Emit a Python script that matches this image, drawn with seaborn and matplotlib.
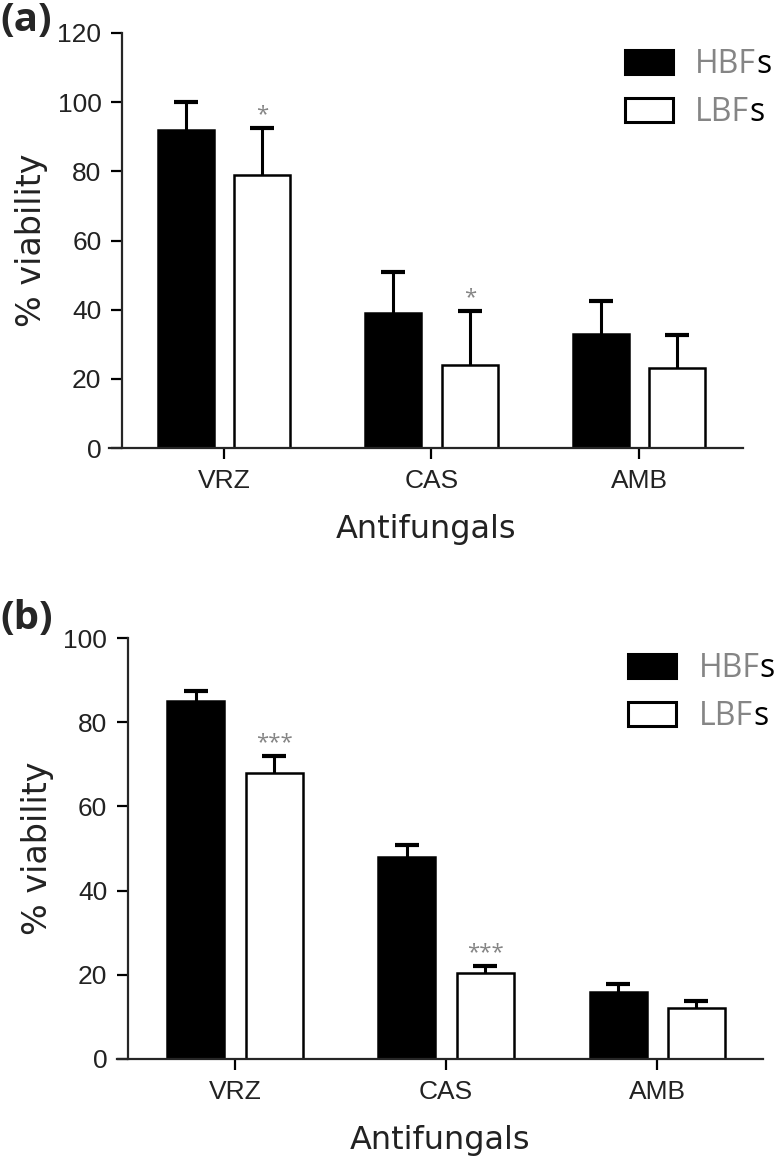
"""
抗真菌薬ごとの生存率 (HBFs / LBFs) の棒グラフ
"""
import matplotlib
matplotlib.use('Agg')
import matplotlib.pyplot as plt
import matplotlib.patches as mpatches
import numpy as np
import pandas as pd
import seaborn as sns

# データ
drugs = ['VRZ', 'CAS', 'AMB']
groups = ['HBF', 'LBF']

a_hbf = [92.0, 39.0, 33.0]
a_hbf_err = [8.0, 12.0, 9.4]
a_lbf = [79.0, 24.0, 23.0]
a_lbf_err = [13.4, 15.5, 9.7]
a_stars = ['*', '*', '']

b_hbf = [85.0, 48.0, 15.8]
b_hbf_err = [2.5, 2.8, 2.0]
b_lbf = [68.0, 20.4, 12.2]
b_lbf_err = [4.0, 1.6, 1.6]
b_stars = ['***', '***', '']

a_yticks = [0, 20, 40, 60, 80, 100, 120]
b_yticks = [0, 20, 40, 60, 80, 100]

# スタイル
sns.set_style('ticks')
plt.rcParams['font.family'] = ['Liberation Sans', 'DejaVu Sans']
plt.rcParams['axes.linewidth'] = 1.6

TICK_COLOR = '#222222'
GREY = '#858585'
legend_texts = []


def make_df(hbf, lbf):
    return pd.DataFrame({
        'drug': drugs * 2,
        'group': ['HBF'] * 3 + ['LBF'] * 3,
        'value': hbf + lbf,
    })


def draw_panel(ax, hbf, hbf_err, lbf, lbf_err, stars, yticks, xlim, yspine_x,
               leg_anchor, leg_pad, letter_pos, fig):
    df = make_df(hbf, lbf)
    sns.barplot(data=df, x='drug', y='value', hue='group', hue_order=groups,
                palette=['black', 'white'], edgecolor='black', linewidth=1.8,
                width=0.74, gap=0.27, errorbar=None, legend=False, ax=ax)

    # エラーバー（上側のみ）
    errs = [hbf_err, lbf_err]
    vals = [hbf, lbf]
    bar_conts = list(ax.containers)
    for gi, cont in enumerate(bar_conts):
        xs = [b.get_x() + b.get_width() / 2 for b in cont]
        eb = ax.errorbar(xs, vals[gi], yerr=[np.zeros(3), errs[gi]], fmt='none',
                         ecolor='black', elinewidth=2.2, capsize=8.5, capthick=3,
                         zorder=1)
        # 棒の上端に重なる下側キャップは消す
        for cap in eb[1]:
            if np.allclose(cap.get_ydata(), vals[gi]):
                cap.set_visible(False)
        if gi == 1:
            for x, v, e, s in zip(xs, vals[gi], errs[gi], stars):
                if s:
                    ax.annotate(s, xy=(x, v + e), xytext=(0, 2),
                                textcoords='offset points', ha='center',
                                va='bottom', fontsize=16, color=GREY,
                                family=['Open Sans', 'DejaVu Sans'])

    ax.set_xlim(*xlim)
    ax.set_ylim(yticks[0], yticks[-1])
    ax.set_yticks(yticks)
    ax.spines['left'].set_position(('data', yspine_x))
    sns.despine(ax=ax)
    ax.tick_params(axis='both', length=8, width=1.6, colors='black',
                   labelcolor=TICK_COLOR, labelsize=19)
    ax.tick_params(axis='x', pad=7)
    ax.tick_params(axis='y', pad=7)
    ax.set_xlabel('Antifungals', fontsize=23, color=TICK_COLOR, labelpad=15,
                  family='DejaVu Sans')
    ax.set_ylabel('% viability', fontsize=24, color=TICK_COLOR, labelpad=7,
                  family='DejaVu Sans')

    # 凡例
    handles = [mpatches.Patch(facecolor='black', edgecolor='black', linewidth=2.2),
               mpatches.Patch(facecolor='white', edgecolor='black', linewidth=2.2)]
    leg = ax.legend(handles, ['HBF', 'LBF'], loc='upper left',
                    bbox_to_anchor=leg_anchor, frameon=False, borderpad=0,
                    borderaxespad=0, handlelength=1.5, handleheight=0.8,
                    handletextpad=leg_pad, labelspacing=0.47,
                    prop={'family': 'Open Sans', 'size': 23})
    for t in leg.get_texts():
        t.set_color(GREY)
        legend_texts.append(t)

    fig.text(letter_pos[0], letter_pos[1], letter_pos[2], fontsize=29,
             fontweight='bold', va='top', ha='left',
             family=['Open Sans', 'DejaVu Sans'])


fig = plt.figure(figsize=(7.79, 11.61), dpi=100)
ax_a = fig.add_axes([109 / 779, 1 - 448 / 1161, 634 / 779, 415 / 1161])
ax_b = fig.add_axes([117 / 779, 1 - 1059 / 1161, 646 / 779, 421 / 1161])

draw_panel(ax_a, a_hbf, a_hbf_err, a_lbf, a_lbf_err, a_stars, a_yticks,
           (-0.554, 2.501), -0.49, (0.814, 0.964), 0.69,
           (0.0, 1 - 1 / 1161, '(a)'), fig)
draw_panel(ax_b, b_hbf, b_hbf_err, b_lbf, b_lbf_err, b_stars, b_yticks,
           (-0.559, 2.502), -0.507, (0.791, 0.967), 0.72,
           (0.0, 1 - 599 / 1161, '(b)'), fig)

# 凡例ラベルの末尾に黒い "s" を付ける
fig.canvas.draw()
renderer = fig.canvas.get_renderer()
W, H = fig.bbox.width, fig.bbox.height
for t in legend_texts:
    bb = t.get_window_extent(renderer)
    fig.text(bb.x1 / W, bb.y0 / H, 's', ha='left', va='bottom',
             fontsize=23, family='Open Sans', color='black')

fig.savefig('out.png', dpi=100)
plt.close(fig)
